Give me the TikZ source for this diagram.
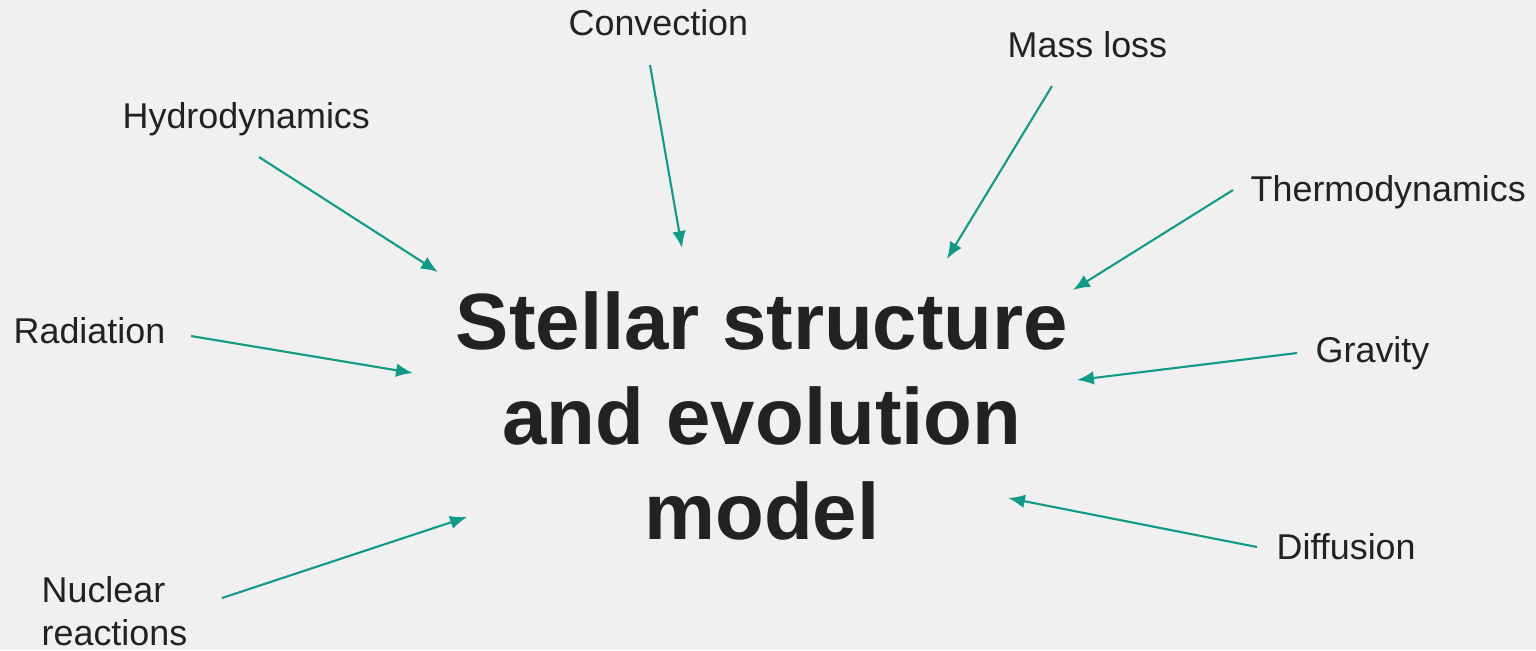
\documentclass[tikz,border=0pt]{standalone}
\usepackage{fontspec}
\setmainfont{Liberation Sans}
\usetikzlibrary{arrows.meta}
\definecolor{bgcol}{HTML}{F0F0F0}
\definecolor{tealcol}{HTML}{129A88}
\definecolor{inkcol}{HTML}{222222}
\begin{document}
\begin{tikzpicture}[x=0.01cm,y=-0.01cm]
			\fill[bgcol] (0,0) rectangle (1536,650);
			\useasboundingbox (0,0) rectangle (1536,650);

			\node[inkcol,align=center,font=\fontsize{22.7}{27}\selectfont\bfseries] (model) at (762,416) {Stellar structure\\and evolution\\model};

			\begin{scope}[every node/.style={inkcol,inner sep=0pt,anchor=base west,font=\fontsize{10.2}{12}\selectfont}]
				\node (hydro) at (122,128) {Hydrodynamics};
				\node (conv) at (568,35) {Convection};
				\node (mass) at (1007,57) {Mass loss};
				\node (thermo) at (1250,201) {Thermodynamics};
				\node (rad) at (13,343) {Radiation};
				\node (grav) at (1315,362) {Gravity};
				\node (diff) at (1276,559) {Diffusion};
				\node[align=left] (nuc) at (41,645) {Nuclear\\reactions};
			\end{scope}

			% arrow ends
			\coordinate (hydro-s) at (259,157);  \coordinate (hydro-e) at (438,272);
			\coordinate (conv-s) at (650,65);    \coordinate (conv-e) at (682,248);
			\coordinate (mass-s) at (1052,86);   \coordinate (mass-e) at (947,259);
			\coordinate (thermo-s) at (1233,190); \coordinate (thermo-e) at (1073,290);
			\coordinate (rad-s) at (191,336);    \coordinate (rad-e) at (413,373);
			\coordinate (grav-s) at (1297,353);  \coordinate (grav-e) at (1077,380);
			\coordinate (diff-s) at (1257,547);  \coordinate (diff-e) at (1008,498);
			\coordinate (nuc-s) at (222,598);    \coordinate (nuc-e) at (467,517);

			\begin{scope}[every edge/.style={draw=tealcol,line width=0.6pt}]
				\path [-{Latex[length=4.8pt,width=3.9pt]}] (hydro-s) edge (hydro-e);
				\path [-{Latex[length=4.8pt,width=3.9pt]}] (conv-s) edge (conv-e);
				\path [-{Latex[length=4.8pt,width=3.9pt]}] (mass-s) edge (mass-e);
				\path [-{Latex[length=4.8pt,width=3.9pt]}] (thermo-s) edge (thermo-e);
				\path [-{Latex[length=4.8pt,width=3.9pt]}] (rad-s) edge (rad-e);
				\path [-{Latex[length=4.8pt,width=3.9pt]}] (grav-s) edge (grav-e);
				\path [-{Latex[length=4.8pt,width=3.9pt]}] (diff-s) edge (diff-e);
				\path [-{Latex[length=4.8pt,width=3.9pt]}] (nuc-s) edge (nuc-e);
			\end{scope}
		\end{tikzpicture}
\end{document}
